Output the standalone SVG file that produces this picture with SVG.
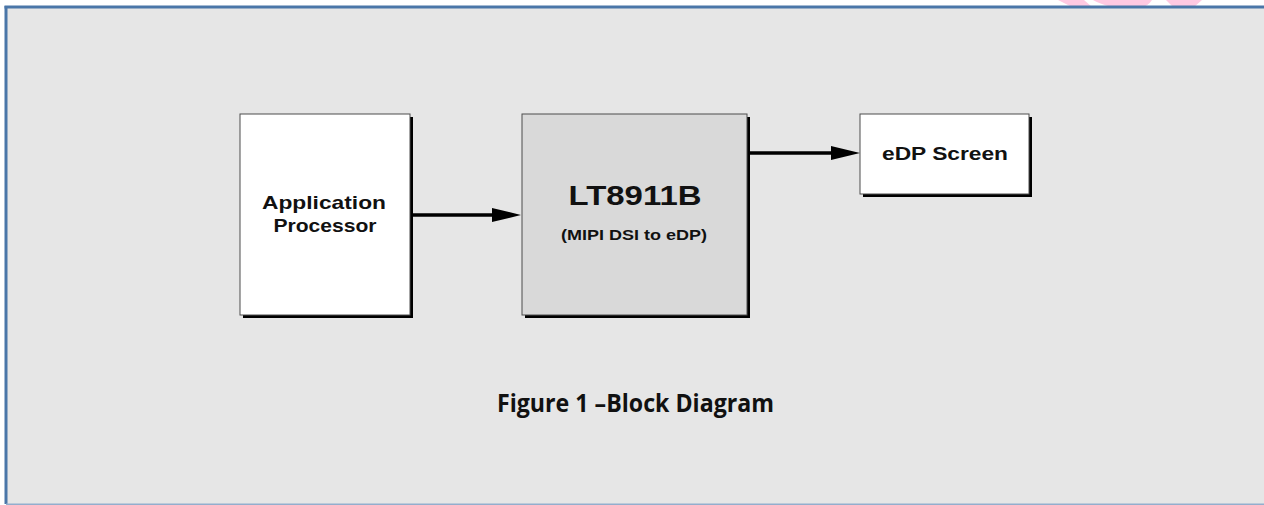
<svg xmlns="http://www.w3.org/2000/svg" width="1264" height="505" viewBox="0 0 1264 505">
  <defs>
    <style>
      .shadow { fill: #000000; }
      .box { stroke: #4d4d4d; stroke-width: 1; }
      .lbl { font-family: "Liberation Sans", Arial, sans-serif; font-weight: bold; fill: #111111; text-anchor: middle; }
      .cap { font-family: "Open Sans", "Noto Sans", sans-serif; font-weight: bold; fill: #111111; text-anchor: middle; }
      .conn { stroke: #000000; stroke-width: 3.5; fill: none; }
      .head { fill: #000000; }
      .wm { fill: #ffc9e2; }
    </style>
  </defs>
  <rect x="0" y="0" width="1264" height="505" fill="#ffffff"/>
  <g id="watermark">
    <polygon class="wm" points="1058,0 1084,0 1092,7 1072,7"/>
    <path class="wm" d="M1093,0 L1152,0 Q1148,6 1142,7 L1112,7 Q1100,4 1093,0 Z"/>
    <polygon class="wm" points="1166,0 1202,0 1194,7 1173,7"/>
  </g>
  <g id="frame">
    <rect x="6" y="7" width="1258" height="497" fill="#e6e6e6"/>
    <line x1="4.5" y1="7" x2="1264" y2="7" stroke="#4a76a8" stroke-width="3"/>
    <line x1="6" y1="6" x2="6" y2="504" stroke="#4a76a8" stroke-width="3"/>
    <line x1="6" y1="504.2" x2="1264" y2="504.2" stroke="#93aecd" stroke-width="1.5"/>
  </g>
  <g id="node-ap">
    <rect class="shadow" x="243" y="117" width="170" height="201"/>
    <rect class="box" x="240" y="114" width="170" height="201" fill="#ffffff"/>
    <text class="lbl" x="324" y="209" font-size="19" textLength="124" lengthAdjust="spacingAndGlyphs">Application</text>
    <text class="lbl" x="325" y="232" font-size="19" textLength="103" lengthAdjust="spacingAndGlyphs">Processor</text>
  </g>
  <g id="node-lt8911b">
    <rect class="shadow" x="525" y="117" width="225" height="201"/>
    <rect class="box" x="522" y="114" width="225" height="201" fill="#d9d9d9"/>
    <text class="lbl" x="635" y="205" font-size="28.5" textLength="133" lengthAdjust="spacingAndGlyphs">LT8911B</text>
    <text class="lbl" x="634" y="240" font-size="14" textLength="146" lengthAdjust="spacingAndGlyphs">(MIPI DSI to eDP)</text>
  </g>
  <g id="node-edp">
    <rect class="shadow" x="863" y="117" width="169" height="80"/>
    <rect class="box" x="860" y="114" width="169" height="80" fill="#ffffff"/>
    <text class="lbl" x="945" y="160" font-size="18" textLength="126" lengthAdjust="spacingAndGlyphs">eDP Screen</text>
  </g>
  <g id="connectors">
    <line class="conn" x1="413" y1="215" x2="495" y2="215"/>
    <polygon class="head" points="492,208 521,215 492,222"/>
    <line class="conn" x1="750" y1="153" x2="834" y2="153"/>
    <polygon class="head" points="831,146 860,153 831,160"/>
  </g>
  <text class="cap" x="635.5" y="412" font-size="25" textLength="277" lengthAdjust="spacingAndGlyphs">Figure 1 –Block Diagram</text>
</svg>
